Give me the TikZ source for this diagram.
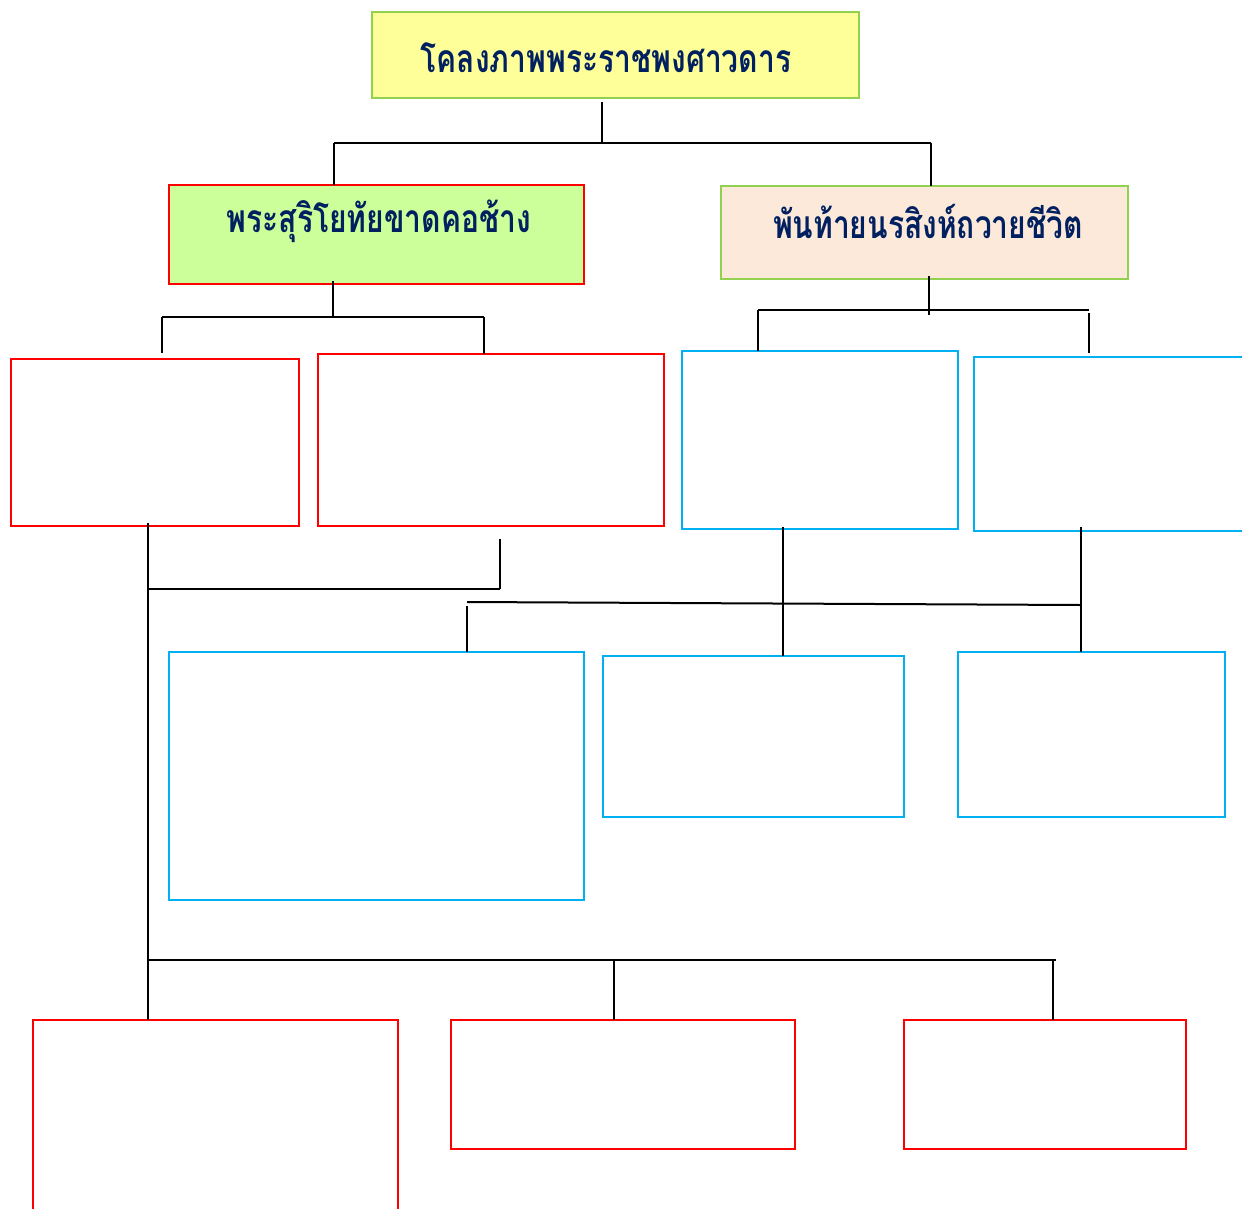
\documentclass[tikz,border=0pt]{standalone}
\usepackage{fontspec}
\newfontfamily\thaifont[Script=Thai]{Loma}
\definecolor{tred}{HTML}{FF0000}
\definecolor{tblue}{HTML}{00B0F0}
\definecolor{tgreen}{HTML}{92D050}
\definecolor{tnavy}{HTML}{002060}
\definecolor{tyellow}{HTML}{FFFF99}
\definecolor{tlime}{HTML}{CCFF99}
\definecolor{tpeach}{HTML}{FDE9D9}
\tikzset{
  box/.style={draw, line width=2pt, inner sep=0pt, outer sep=0pt, anchor=north west},
  redbox/.style={box, draw=tred},
  bluebox/.style={box, draw=tblue},
  lbl/.style={font=\thaifont\bfseries\fontsize{30}{34}\selectfont, text=tnavy, inner sep=0pt},
  conn/.style={draw=black, line width=2pt},
}
\newcommand{\tall}[1]{\scalebox{1}[1.3]{#1}}
\begin{document}
\begin{tikzpicture}[x=1pt,y=-1pt]
\useasboundingbox (0,0) rectangle (1242,1209);
\clip (0,0) rectangle (1242,1209);
% level 0
\node[box, draw=tgreen, fill=tyellow, minimum width=487pt, minimum height=86pt] (title) at (372,12) {};
\node[lbl] (titletxt) at (606,58) {\tall{โคลงภาพพระราชพงศาวดาร}};
% level 1
\node[box, draw=tred, fill=tlime, minimum width=415pt, minimum height=99pt] (suri) at (169,185) {};
\node[lbl] (suritxt) at (379,221) {\tall{พระสุริโยทัยขาดคอช้าง}};
\node[box, draw=tgreen, fill=tpeach, minimum width=407pt, minimum height=93pt] (pan) at (721,186) {};
\node[lbl] (pantxt) at (928,221) {\tall{พันท้ายนรสิงห์ถวายชีวิต}};
% level 2
\node[redbox, minimum width=288pt, minimum height=167pt] (a) at (11,359) {};
\node[redbox, minimum width=346pt, minimum height=172pt] (b) at (318,354) {};
\node[bluebox, minimum width=276pt, minimum height=178pt] (c) at (682,351) {};
\node[bluebox, minimum width=300pt, minimum height=174pt] (d) at (974,357) {};
% level 3
\node[bluebox, minimum width=415pt, minimum height=248pt] (e) at (169,652) {};
\node[bluebox, minimum width=301pt, minimum height=161pt] (f) at (603,656) {};
\node[bluebox, minimum width=267pt, minimum height=165pt] (g) at (958,652) {};
% level 4
\node[redbox, minimum width=365pt, minimum height=200pt] (h) at (33,1020) {};
\node[redbox, minimum width=344pt, minimum height=129pt] (i) at (451,1020) {};
\node[redbox, minimum width=282pt, minimum height=129pt] (j) at (904,1020) {};
% connector coordinates
\coordinate (t0) at (602,102);
\coordinate (t1) at (602,143);
\coordinate (h0l) at (334,143);
\coordinate (h0r) at (931,143);
\coordinate (s0) at (333,281);
\coordinate (s1) at (333,317);
\coordinate (h1l) at (162,317);
\coordinate (h1r) at (484,317);
\coordinate (al) at (162,353);
\coordinate (p0) at (929,276);
\coordinate (p1) at (929,315);
\coordinate (h2l) at (758,310);
\coordinate (h2r) at (1089,310);
\coordinate (dd0) at (1089,313);
\coordinate (dd) at (1089,353);
\coordinate (v0) at (148,523);
\coordinate (v1) at (148,589);
\coordinate (v2) at (148,960);
\coordinate (bq0) at (500,539);
\coordinate (bq1) at (500,589);
\coordinate (m0) at (467,602);
\coordinate (m1) at (1080,605);
\coordinate (mh) at (467,606);
\coordinate (c0) at (783,527);
\coordinate (d0) at (1081,527);
\coordinate (b4r) at (1056,960);
\coordinate (b4m) at (614,960);
\coordinate (b4j) at (1053,960);
% connectors
\draw[conn] (t0) -- (t1);
\draw[conn] (h0l) -- (h0r);
\draw[conn] (h0l) -- (h0l |- suri.north);
\draw[conn] (h0r) -- (h0r |- pan.north);
\draw[conn] (s0) -- (s1);
\draw[conn] (h1l) -- (h1r);
\draw[conn] (h1l) -- (al);
\draw[conn] (h1r) -- (h1r |- b.north);
\draw[conn] (p0) -- (p1);
\draw[conn] (h2l) -- (h2r);
\draw[conn] (h2l) -- (h2l |- c.north);
\draw[conn] (dd0) -- (dd);
\draw[conn] (v0) -- (v0 |- h.north);
\draw[conn] (v1) -- (bq1);
\draw[conn] (bq0) -- (bq1);
\draw[conn] (m0) -- (m1);
\draw[conn] (mh) -- (mh |- e.north);
\draw[conn] (c0) -- (c0 |- f.north);
\draw[conn] (d0) -- (d0 |- g.north);
\draw[conn] (v2) -- (b4r);
\draw[conn] (b4m) -- (b4m |- i.north);
\draw[conn] (b4j) -- (b4j |- j.north);
\end{tikzpicture}
\end{document}
